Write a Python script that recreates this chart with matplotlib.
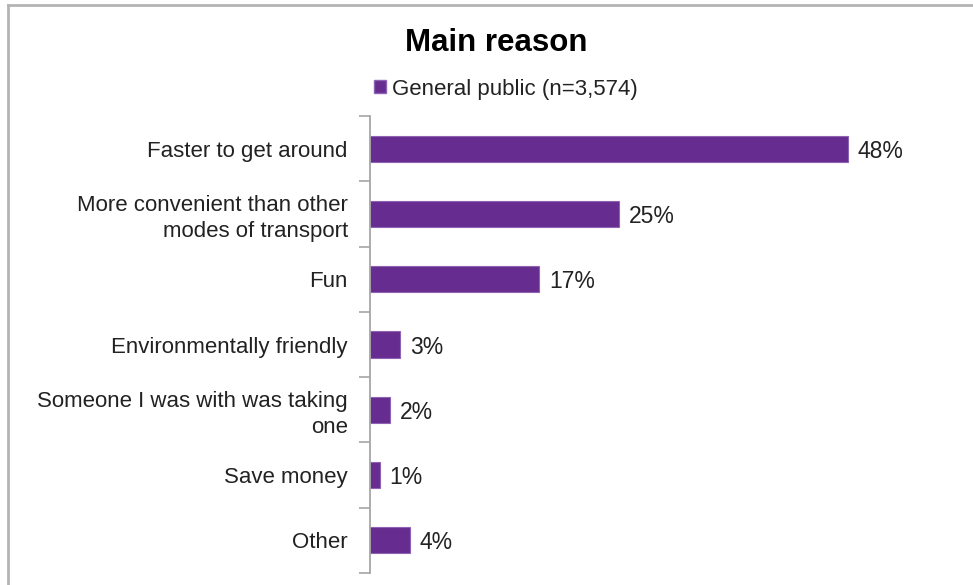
import matplotlib
matplotlib.use("Agg")
import matplotlib.pyplot as plt
from matplotlib.lines import Line2D
from matplotlib.patches import Patch

plt.rcParams['font.family'] = ['Liberation Sans', 'DejaVu Sans']

categories = [
    "Faster to get around",
    "More convenient than other\nmodes of transport",
    "Fun",
    "Environmentally friendly",
    "Someone I was with was taking\none",
    "Save money",
    "Other",
]
values = [48, 25, 17, 3, 2, 1, 4]
series_name = "General public (n=3,574)"
title = "Main reason"

W, H = 973, 585
fig = plt.figure(figsize=(W / 100, H / 100), dpi=100)

bar_color = "#662C8F"
edge_color = "#8E63B4"
axis_color = "#A6A6A6"
text_color = "#222222"
fs = 16

ax = fig.add_axes([370 / W, 1 - 573 / H, 498 / W, 457 / H])
n = len(categories)
ypos = list(range(n))
ax.barh(ypos, values, height=0.4, color=bar_color, edgecolor=edge_color, linewidth=0.8)
ax.set_ylim(n - 0.5, -0.5)
ax.set_xlim(0, 50)

ax.set_yticks(ypos)
ax.set_yticklabels(categories, fontsize=fs, color=text_color, linespacing=1.3)
ax.tick_params(axis='y', length=0, pad=16)
# tick marks at category boundaries
ax.set_yticks([i - 0.5 for i in range(n + 1)], minor=True)
ax.tick_params(axis='y', which='minor', length=8, width=1.2, color=axis_color, direction='out')

ax.set_xticks([])
for side in ("top", "right", "bottom"):
    ax.spines[side].set_visible(False)
ax.spines["left"].set_color(axis_color)
ax.spines["left"].set_linewidth(1.3)

for y, v in zip(ypos, values):
    ax.annotate(f"{v}%", xy=(v, y), xytext=(7, 0), textcoords="offset points",
                va="center_baseline", ha="left", fontsize=fs + 0.5, color=text_color)

fig.text(496 / W, 1 - 43 / H, title, ha="center", va="center",
         fontsize=22.5, fontweight="bold", color="black")

leg = fig.legend(handles=[Patch(facecolor=bar_color, edgecolor=edge_color, label=series_name)],
                 loc="center", bbox_to_anchor=(506 / W, 1 - 89 / H), frameon=False,
                 fontsize=fs, handlelength=0.55, handleheight=0.55, handletextpad=0.25)
for t in leg.get_texts():
    t.set_color(text_color)

# outer chart frame
fig.add_artist(Line2D([8 / W, 8 / W], [0, 1 - 5 / H], transform=fig.transFigure,
                      color="#B4B4B4", linewidth=2))
fig.add_artist(Line2D([8 / W, 1], [1 - 5 / H, 1 - 5 / H], transform=fig.transFigure,
                      color="#B4B4B4", linewidth=2))

fig.savefig("out.png", dpi=100)
